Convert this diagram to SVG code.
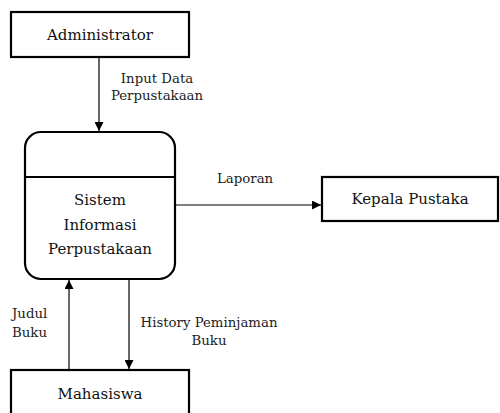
<svg xmlns="http://www.w3.org/2000/svg" width="500" height="413" viewBox="0 0 500 413">
<style>
.box{fill:#fff;stroke:#000;stroke-width:2.2}
.lbl{font-family:'DejaVu Serif',serif;font-size:15px;fill:#111;text-anchor:middle}
.el{font-family:'DejaVu Serif',serif;font-size:13.3px;fill:#222}
.ln{stroke:#000;stroke-width:1.2;fill:none}
</style>
<defs>
<marker id="ah" viewBox="0 0 10 10" refX="10" refY="5" markerWidth="9" markerHeight="9" markerUnits="userSpaceOnUse" orient="auto">
<path d="M0,0 L10,5 L0,10 z" fill="#000"/>
</marker>
</defs>
<rect width="500" height="413" fill="#fff"/>
<g id="administrator">
<rect class="box" x="11" y="12" width="178" height="45"/>
<text class="lbl" x="100" y="40">Administrator</text>
</g>
<g id="sistem">
<rect class="box" x="25" y="132" width="150" height="147" rx="16" ry="16"/>
<line x1="25" y1="177" x2="175" y2="177" stroke="#000" stroke-width="2"/>
<text class="lbl" x="100" y="205">Sistem</text>
<text class="lbl" x="100" y="230">Informasi</text>
<text class="lbl" x="100" y="254">Perpustakaan</text>
</g>
<g id="kepala">
<rect class="box" x="322" y="177" width="176" height="44"/>
<text class="lbl" x="410" y="204">Kepala Pustaka</text>
</g>
<g id="mahasiswa">
<rect class="box" x="11" y="370" width="178" height="50"/>
<text class="lbl" x="100" y="399">Mahasiswa</text>
</g>
<g id="connectors">
<line class="ln" x1="99" y1="57" x2="99" y2="131" marker-end="url(#ah)"/>
<line class="ln" x1="175" y1="205" x2="321" y2="205" marker-end="url(#ah)"/>
<line class="ln" x1="69" y1="370" x2="69" y2="280" marker-end="url(#ah)"/>
<line class="ln" x1="129" y1="279" x2="129" y2="369" marker-end="url(#ah)"/>
<text class="el" x="157" y="83" text-anchor="middle">Input Data</text>
<text class="el" x="157" y="100" text-anchor="middle">Perpustakaan</text>
<text class="el" x="217" y="183">Laporan</text>
<text class="el" x="12" y="318">Judul</text>
<text class="el" x="12" y="337">Buku</text>
<text class="el" x="209" y="327" text-anchor="middle">History Peminjaman</text>
<text class="el" x="209" y="345" text-anchor="middle">Buku</text>
</g>
</svg>
